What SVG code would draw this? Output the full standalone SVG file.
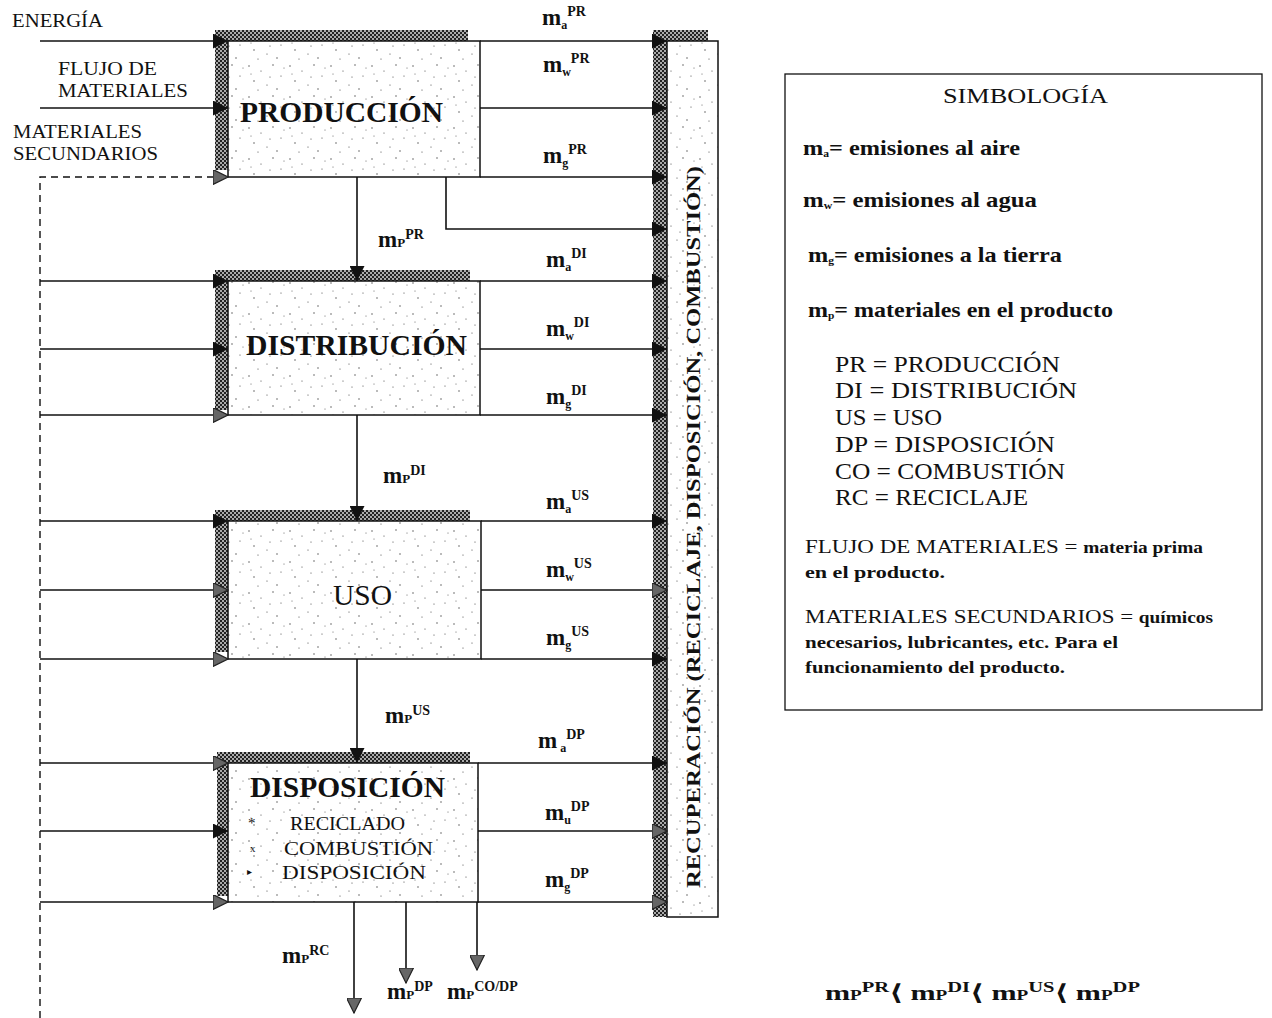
<svg xmlns="http://www.w3.org/2000/svg" width="1272" height="1018" viewBox="0 0 1272 1018" font-family="'Liberation Serif','DejaVu Serif',serif">
<defs>
<style>
text{font-family:"Liberation Serif","DejaVu Serif",serif;fill:#111}
.ln{stroke:#111;stroke-width:1.6;fill:none}
.dash{stroke:#111;stroke-width:1.4;fill:none;stroke-dasharray:7 5}
.box{fill:url(#dots);stroke:#111;stroke-width:1.5}
.hatch{fill:url(#chk)}
.title{font-size:29px;font-weight:bold}
.em{font-size:23px;font-weight:bold}
.sm{font-size:12px}
.sp{font-size:14px}
.pp{font-size:13px}
.lab{font-size:19px}
.leg{font-size:21px;font-weight:bold}
.abbr{font-size:23px}
.note{font-size:19px}
.noteb{font-size:16px;font-weight:bold}
.sub3{font-size:18px}
</style>
<pattern id="dots" width="41" height="31" patternUnits="userSpaceOnUse">
<rect width="41" height="31" fill="#fff"/>
<circle cx="3" cy="4" r="0.7" fill="#444"/>
<circle cx="15" cy="9" r="0.6" fill="#444"/>
<circle cx="27" cy="3" r="0.7" fill="#444"/>
<circle cx="35" cy="14" r="0.6" fill="#444"/>
<circle cx="8" cy="19" r="0.7" fill="#444"/>
<circle cx="21" cy="23" r="0.6" fill="#444"/>
<circle cx="31" cy="27" r="0.7" fill="#444"/>
<circle cx="12" cy="28" r="0.6" fill="#444"/>
<circle cx="38" cy="6" r="0.5" fill="#444"/>
<circle cx="24" cy="15" r="0.6" fill="#444"/>
<circle cx="5" cy="12" r="0.5" fill="#444"/>
</pattern>
<pattern id="chk" width="4" height="4" patternUnits="userSpaceOnUse">
<rect width="4" height="4" fill="#aaa"/>
<rect width="2" height="2" fill="#222"/>
<rect x="2" y="2" width="2" height="2" fill="#222"/>
</pattern>
<marker id="ah" viewBox="0 0 10 10" refX="10" refY="5" markerWidth="16" markerHeight="15" markerUnits="userSpaceOnUse" orient="auto">
<path d="M0,0 L10,5 L0,10 z" fill="#111"/>
</marker>
<marker id="ahg" viewBox="0 0 10 10" refX="10" refY="5" markerWidth="16" markerHeight="15" markerUnits="userSpaceOnUse" orient="auto">
<path d="M0,0 L10,5 L0,10 z" fill="#666" stroke="#222" stroke-width="0.8"/>
</marker>
</defs>
<rect width="1272" height="1018" fill="#fff"/>

<g id="inputs-labels">
<text x="12" y="27" class="lab" textLength="91" lengthAdjust="spacingAndGlyphs">ENERGÍA</text>
<text x="58" y="75" class="lab" textLength="99" lengthAdjust="spacingAndGlyphs">FLUJO DE</text>
<text x="58" y="97" class="lab" textLength="130" lengthAdjust="spacingAndGlyphs">MATERIALES</text>
<text x="13" y="138" class="lab" textLength="129" lengthAdjust="spacingAndGlyphs">MATERIALES</text>
<text x="13" y="160" class="lab" textLength="145" lengthAdjust="spacingAndGlyphs">SECUNDARIOS</text>
</g>

<g id="produccion">
<rect class="hatch" x="215" y="30" width="253" height="11"/>
<rect class="hatch" x="215" y="30" width="13" height="140"/>
<rect class="box" x="228" y="41" width="252" height="136"/>
<text x="240" y="122" class="title" textLength="203" lengthAdjust="spacingAndGlyphs">PRODUCCIÓN</text>
</g>
<g id="distribucion">
<rect class="hatch" x="215" y="270" width="255" height="11"/>
<rect class="hatch" x="215" y="270" width="13" height="140"/>
<rect class="box" x="228" y="281" width="252" height="134"/>
<text x="246" y="355" class="title" textLength="221" lengthAdjust="spacingAndGlyphs">DISTRIBUCIÓN</text>
</g>
<g id="uso">
<rect class="hatch" x="215" y="510" width="255" height="11"/>
<rect class="hatch" x="215" y="510" width="13" height="142"/>
<rect class="box" x="228" y="521" width="253" height="138"/>
<text x="333" y="605" font-size="30" textLength="59" lengthAdjust="spacingAndGlyphs">USO</text>
</g>
<g id="disposicion">
<rect class="hatch" x="217" y="752" width="253" height="11"/>
<rect class="hatch" x="217" y="752" width="11" height="144"/>
<rect class="box" x="228" y="763" width="250" height="139"/>
<text x="250" y="797" class="title" textLength="195" lengthAdjust="spacingAndGlyphs">DISPOSICIÓN</text>
<text x="248" y="828" font-size="15">*</text>
<text x="290" y="830" class="sub3" textLength="115" lengthAdjust="spacingAndGlyphs">RECICLADO</text>
<text x="250" y="852" font-size="11">x</text>
<text x="284" y="855" class="sub3" textLength="149" lengthAdjust="spacingAndGlyphs">COMBUSTIÓN</text>
<text x="247" y="875" font-size="10">▸</text>
<text x="282" y="879" class="sub3" textLength="144" lengthAdjust="spacingAndGlyphs">DISPOSICIÓN</text>
</g>
<g id="recuperacion">
<rect class="hatch" x="653" y="30" width="55" height="11"/>
<rect class="hatch" x="653" y="30" width="14" height="887"/>
<rect class="box" x="667" y="41" width="51" height="876"/>
<text transform="translate(700,888) rotate(-90)" font-size="19" font-weight="bold" textLength="722" lengthAdjust="spacingAndGlyphs">RECUPERACIÓN (RECICLAJE, DISPOSICIÓN, COMBUSTIÓN)</text>
</g>

<g id="connectors">
<line class="ln" x1="40" y1="41" x2="228" y2="41" marker-end="url(#ah)"/>
<line class="ln" x1="40" y1="108" x2="228" y2="108" marker-end="url(#ah)"/>
<path class="dash" d="M40,1018 V177 H228" marker-end="url(#ahg)"/>
<line class="ln" x1="40" y1="281" x2="228" y2="281" marker-end="url(#ah)"/>
<line class="ln" x1="40" y1="349" x2="228" y2="349" marker-end="url(#ah)"/>
<line class="ln" x1="40" y1="415" x2="228" y2="415" marker-end="url(#ahg)"/>
<line class="ln" x1="40" y1="521" x2="228" y2="521" marker-end="url(#ah)"/>
<line class="ln" x1="40" y1="590" x2="228" y2="590" marker-end="url(#ahg)"/>
<line class="ln" x1="40" y1="659" x2="228" y2="659" marker-end="url(#ahg)"/>
<line class="ln" x1="40" y1="763" x2="228" y2="763" marker-end="url(#ahg)"/>
<line class="ln" x1="40" y1="831" x2="228" y2="831" marker-end="url(#ah)"/>
<line class="ln" x1="40" y1="902" x2="228" y2="902" marker-end="url(#ahg)"/>

<line class="ln" x1="480" y1="41" x2="667" y2="41" marker-end="url(#ah)"/>
<line class="ln" x1="480" y1="108" x2="667" y2="108" marker-end="url(#ah)"/>
<line class="ln" x1="480" y1="177" x2="667" y2="177" marker-end="url(#ah)"/>
<path class="ln" d="M446,177 V229 H667" marker-end="url(#ah)"/>
<line class="ln" x1="480" y1="281" x2="667" y2="281" marker-end="url(#ah)"/>
<line class="ln" x1="480" y1="349" x2="667" y2="349" marker-end="url(#ah)"/>
<line class="ln" x1="480" y1="415" x2="667" y2="415" marker-end="url(#ah)"/>
<line class="ln" x1="481" y1="521" x2="667" y2="521" marker-end="url(#ah)"/>
<line class="ln" x1="481" y1="590" x2="667" y2="590" marker-end="url(#ahg)"/>
<line class="ln" x1="481" y1="659" x2="667" y2="659" marker-end="url(#ah)"/>
<line class="ln" x1="478" y1="763" x2="667" y2="763" marker-end="url(#ah)"/>
<line class="ln" x1="478" y1="831" x2="667" y2="831" marker-end="url(#ahg)"/>
<line class="ln" x1="478" y1="902" x2="667" y2="902" marker-end="url(#ahg)"/>

<line class="ln" x1="357" y1="177" x2="357" y2="281" marker-end="url(#ah)"/>
<line class="ln" x1="357" y1="415" x2="357" y2="521" marker-end="url(#ah)"/>
<line class="ln" x1="357" y1="659" x2="357" y2="763" marker-end="url(#ah)"/>
<line class="ln" x1="354" y1="902" x2="354" y2="1013" marker-end="url(#ahg)"/>
<line class="ln" x1="406" y1="902" x2="406" y2="983" marker-end="url(#ahg)"/>
<line class="ln" x1="477" y1="902" x2="477" y2="970" marker-end="url(#ahg)"/>
</g>

<g id="flow-labels">
<text x="542" y="25" class="em">m<tspan class="sm" dy="4">a</tspan><tspan class="sp" dy="-13">PR</tspan></text>
<text x="543" y="72" class="em">m<tspan class="sm" dy="4">w</tspan><tspan class="sp" dy="-13">PR</tspan></text>
<text x="543" y="163" class="em">m<tspan class="sm" dy="4">g</tspan><tspan class="sp" dy="-13">PR</tspan></text>
<text x="546" y="267" class="em">m<tspan class="sm" dy="4">a</tspan><tspan class="sp" dy="-13">DI</tspan></text>
<text x="546" y="336" class="em">m<tspan class="sm" dy="4">w</tspan><tspan class="sp" dy="-13">DI</tspan></text>
<text x="546" y="404" class="em">m<tspan class="sm" dy="4">g</tspan><tspan class="sp" dy="-13">DI</tspan></text>
<text x="546" y="509" class="em">m<tspan class="sm" dy="4">a</tspan><tspan class="sp" dy="-13">US</tspan></text>
<text x="546" y="577" class="em">m<tspan class="sm" dy="4">w</tspan><tspan class="sp" dy="-13">US</tspan></text>
<text x="546" y="645" class="em">m<tspan class="sm" dy="4">g</tspan><tspan class="sp" dy="-13">US</tspan></text>
<text x="538" y="748" class="em">m<tspan class="sm" dy="4"> a</tspan><tspan class="sp" dy="-13">DP</tspan></text>
<text x="545" y="820" class="em">m<tspan class="sm" dy="4">u</tspan><tspan class="sp" dy="-13">DP</tspan></text>
<text x="545" y="887" class="em">m<tspan class="sm" dy="4">g</tspan><tspan class="sp" dy="-13">DP</tspan></text>
<text x="378" y="247" class="em">m<tspan class="pp">P</tspan><tspan class="sp" dy="-8">PR</tspan></text>
<text x="383" y="483" class="em">m<tspan class="pp">P</tspan><tspan class="sp" dy="-8">DI</tspan></text>
<text x="385" y="723" class="em">m<tspan class="pp">P</tspan><tspan class="sp" dy="-8">US</tspan></text>
<text x="282" y="963" class="em">m<tspan class="pp">P</tspan><tspan class="sp" dy="-8">RC</tspan></text>
<text x="387" y="999" class="em">m<tspan class="pp">P</tspan><tspan class="sp" dy="-8">DP</tspan></text>
<text x="447" y="999" class="em">m<tspan class="pp">P</tspan><tspan class="sp" dy="-8">CO/DP</tspan></text>
</g>

<g id="simbologia">
<rect x="785" y="74" width="477" height="636" fill="#fff" stroke="#111" stroke-width="1.3"/>
<text x="943" y="103" font-size="21" textLength="165" lengthAdjust="spacingAndGlyphs">SIMBOLOGÍA</text>
<text x="803" y="155" class="leg" textLength="217" lengthAdjust="spacingAndGlyphs">m<tspan font-size="10" dy="2">a</tspan><tspan dy="-2">= emisiones al aire</tspan></text>
<text x="803" y="207" class="leg" textLength="234" lengthAdjust="spacingAndGlyphs">m<tspan font-size="10" dy="2">w</tspan><tspan dy="-2">= emisiones al agua</tspan></text>
<text x="808" y="262" class="leg" textLength="254" lengthAdjust="spacingAndGlyphs">m<tspan font-size="10" dy="2">g</tspan><tspan dy="-2">= emisiones a la tierra</tspan></text>
<text x="808" y="317" class="leg" textLength="305" lengthAdjust="spacingAndGlyphs">m<tspan font-size="10" dy="2">p</tspan><tspan dy="-2">= materiales en el producto</tspan></text>
<text x="835" y="372" class="abbr" textLength="225" lengthAdjust="spacingAndGlyphs">PR = PRODUCCIÓN</text>
<text x="835" y="398" class="abbr" textLength="242" lengthAdjust="spacingAndGlyphs">DI =  DISTRIBUCIÓN</text>
<text x="835" y="425" class="abbr" textLength="107" lengthAdjust="spacingAndGlyphs">US = USO</text>
<text x="835" y="452" class="abbr" textLength="220" lengthAdjust="spacingAndGlyphs">DP = DISPOSICIÓN</text>
<text x="835" y="479" class="abbr" textLength="230" lengthAdjust="spacingAndGlyphs">CO = COMBUSTIÓN</text>
<text x="835" y="505" class="abbr" textLength="193" lengthAdjust="spacingAndGlyphs">RC = RECICLAJE</text>
<text x="805" y="553" class="note" textLength="398" lengthAdjust="spacingAndGlyphs">FLUJO DE MATERIALES = <tspan class="noteb">materia prima</tspan></text>
<text x="805" y="578" class="noteb" textLength="140" lengthAdjust="spacingAndGlyphs">en el producto.</text>
<text x="805" y="623" class="note" textLength="408" lengthAdjust="spacingAndGlyphs">MATERIALES SECUNDARIOS = <tspan class="noteb">químicos</tspan></text>
<text x="805" y="648" class="noteb" textLength="313" lengthAdjust="spacingAndGlyphs">necesarios, lubricantes, etc. Para el</text>
<text x="805" y="673" class="noteb" textLength="260" lengthAdjust="spacingAndGlyphs">funcionamiento del producto.</text>
</g>

<g id="relacion">
<text x="825" y="1000" font-size="22" font-weight="bold" textLength="315" lengthAdjust="spacingAndGlyphs">m<tspan font-size="14">P</tspan><tspan font-size="15" dy="-8">PR</tspan><tspan dy="8">⟨ m</tspan><tspan font-size="14">P</tspan><tspan font-size="15" dy="-8">DI</tspan><tspan dy="8">⟨ m</tspan><tspan font-size="14">P</tspan><tspan font-size="15" dy="-8">US</tspan><tspan dy="8">⟨ m</tspan><tspan font-size="14">P</tspan><tspan font-size="15" dy="-8">DP</tspan></text>
</g>
</svg>
